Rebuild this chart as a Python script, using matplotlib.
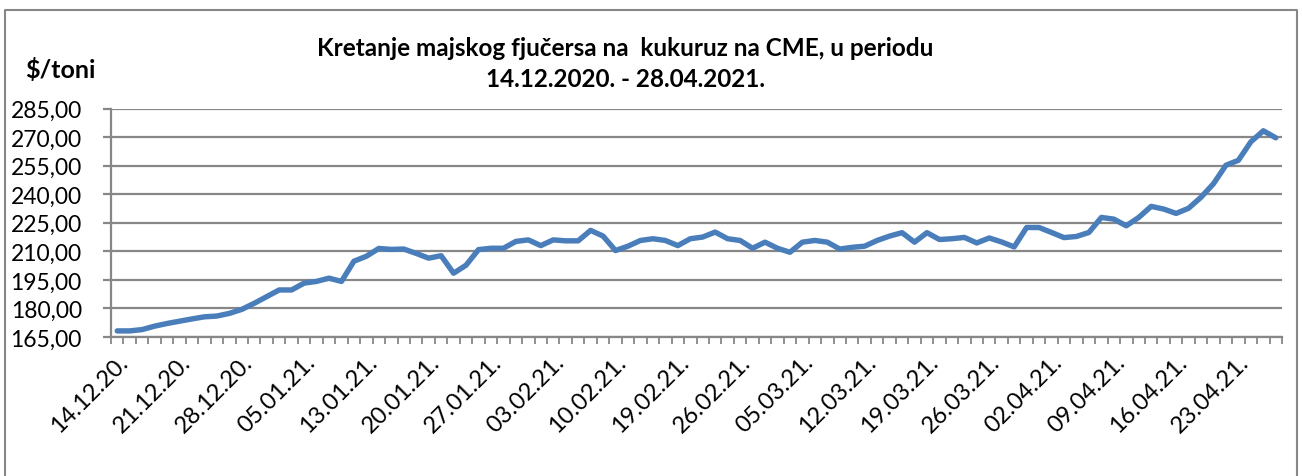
import matplotlib
matplotlib.use("Agg")
import matplotlib.pyplot as plt
import numpy as np

# May corn futures on CME, $/t, daily closes 14.12.2020 - 28.04.2021
prices = [
    168.2, 168.2, 168.9, 170.7, 172.1, 173.3, 174.5, 175.6, 176.0, 177.4,
    179.5, 182.7, 186.2, 189.7, 189.7, 193.3, 194.2, 195.9, 194.2, 204.8,
    207.4, 211.5, 211.0, 211.2, 208.9, 206.4, 207.7, 198.5, 202.7, 210.9,
    211.6, 211.6, 215.2, 216.0, 213.0, 216.0, 215.5, 215.5, 221.0, 218.0,
    210.4, 212.7, 215.7, 216.6, 215.7, 213.0, 216.6, 217.5, 220.1, 216.6,
    215.7, 211.6, 214.8, 211.6, 209.5, 214.8, 215.7, 214.8, 211.2, 212.1,
    212.7, 215.7, 218.0, 219.8, 214.8, 219.8, 216.2, 216.6, 217.3, 214.4,
    217.0, 214.9, 212.3, 222.5, 222.5, 219.9, 217.2, 217.8, 219.9, 227.8,
    226.9, 223.4, 227.8, 233.6, 232.2, 229.9, 232.6, 238.4, 245.5, 255.2,
    257.8, 267.5, 273.3, 269.6,
]
date_labels = [
    "14.12.20.", "21.12.20.", "28.12.20.", "05.01.21.", "13.01.21.",
    "20.01.21.", "27.01.21.", "03.02.21.", "10.02.21.", "19.02.21.",
    "26.02.21.", "05.03.21.", "12.03.21.", "19.03.21.", "26.03.21.",
    "02.04.21.", "09.04.21.", "16.04.21.", "23.04.21.",
]
label_step = 5
y_ticks = [165, 180, 195, 210, 225, 240, 255, 270, 285]

title = "Kretanje majskog fjučersa na  kukuruz na CME, u periodu\n14.12.2020. - 28.04.2021."
unit = "$/toni"

plt.rcParams["font.family"] = ["Lato", "DejaVu Sans"]
grey = "#878787"

fig = plt.figure(figsize=(13.02, 4.77), dpi=100)
ax = fig.add_axes([111 / 1302, 1 - 338 / 477, (1282 - 111) / 1302, (338 - 109.5) / 477])

x = np.arange(len(prices))
ax.plot(x, prices, color="#4A7EBB", linewidth=3.9, solid_joinstyle="round",
        solid_capstyle="round", zorder=3)

ax.set_xlim(-0.5, len(prices) - 0.5)
ax.set_ylim(y_ticks[0], y_ticks[-1])

ax.set_yticks(y_ticks)
ax.set_yticklabels([f"{v:.2f}".replace(".", ",") for v in y_ticks], fontsize=16.5)
ax.yaxis.grid(True, color=grey, linewidth=1.6)
ax.tick_params(axis="y", length=6, width=1.6, color=grey, pad=15)

ax.set_xticks(x[::label_step][:len(date_labels)])
ax.set_xticklabels(date_labels, rotation=45, ha="right", va="top",
                   rotation_mode="anchor", fontsize=17)
ax.tick_params(axis="x", which="major", length=0, pad=10)
ax.set_xticks(np.arange(-0.5, len(prices)), minor=True)
ax.tick_params(axis="x", which="minor", length=5, width=1.3, color=grey)

for side in ("top", "right"):
    ax.spines[side].set_visible(False)
for side in ("left", "bottom"):
    ax.spines[side].set_color(grey)
    ax.spines[side].set_linewidth(1.6)

fig.text(625 / 1302, 1 - 64 / 477, title, ha="center", va="center",
         fontsize=17.5, fontweight="bold", linespacing=1.4)
fig.text(25 / 1302, 1 - 70 / 477, unit, ha="left", va="center",
         fontsize=18, fontweight="bold")

# outer chart border
fig.add_artist(plt.Line2D([5 / 1302, 5 / 1302, 1297 / 1302, 1297 / 1302],
                          [0, 1 - 11 / 477, 1 - 11 / 477, 0],
                          transform=fig.transFigure, color=grey, linewidth=1.5))

fig.savefig("out.png", dpi=100)
